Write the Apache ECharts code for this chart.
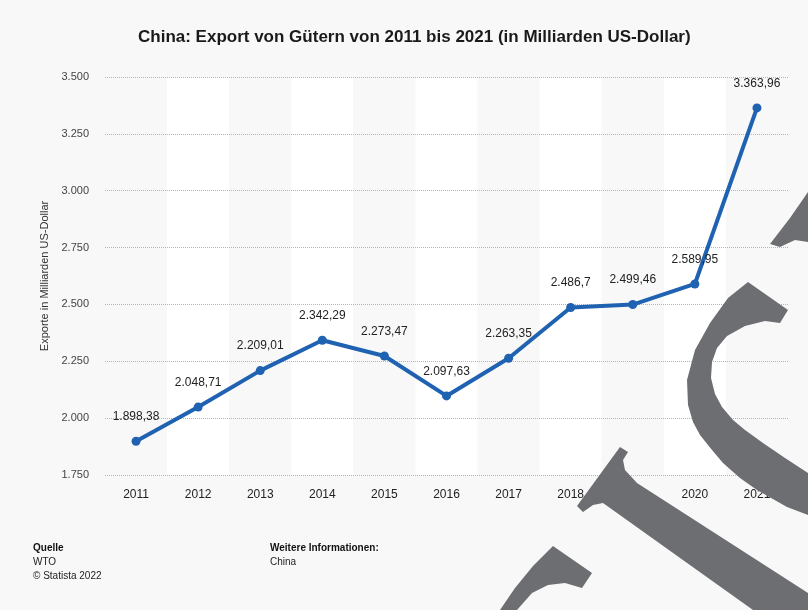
<!DOCTYPE html>
<html>
<head>
<meta charset="utf-8">
<script src="https://cdn.jsdelivr.net/npm/echarts@6/dist/echarts.min.js"></script>
<style>
html,body{margin:0;padding:0;background:#f8f8f8;}
#c{width:808px;height:610px;}
</style>
</head>
<body>
<div id="c"></div>
<script>
const years = ['2011','2012','2013','2014','2015','2016','2017','2018','2019','2020','2021'];
const exportsValues = [1898.38, 2048.71, 2209.01, 2342.29, 2273.47, 2097.63, 2263.35, 2486.7, 2499.46, 2589.95, 3363.96];
const yTicks = [1750, 2000, 2250, 2500, 2750, 3000, 3250, 3500];

function de(v){
  const s = String(v).split('.');
  const i = s[0].replace(/\B(?=(\d{3})+(?!\d))/g, '.');
  return s.length > 1 ? i + ',' + s[1] : i;
}

const FONT = 'Liberation Sans, Arial, Helvetica, sans-serif';
const WM = '#6d6e71';

const chart = echarts.init(document.getElementById('c'), null, {renderer:'canvas'});
chart.setOption({
  backgroundColor: '#f8f8f8',
  animation: false,
  title: {
    text: 'China: Export von Gütern von 2011 bis 2021 (in Milliarden US-Dollar)',
    left: 133, top: 24,
    textStyle: {fontFamily: FONT, fontSize: 17, fontWeight: 'bold', color: '#1a1a1a'}
  },
  grid: {left: 105, right: 20, top: 77, bottom: 135},
  xAxis: {
    type: 'category', data: years, boundaryGap: true, z: 0,
    axisLine: {show: false}, axisTick: {show: false},
    axisLabel: {fontFamily: FONT, fontSize: 12, color: '#222', margin: 14},
    splitArea: {show: true, areaStyle: {color: ['#f8f8f8', '#ffffff']}}
  },
  yAxis: {
    type: 'value', min: yTicks[0], max: yTicks[yTicks.length-1], interval: 250, z: 1,
    name: 'Exporte in Milliarden US-Dollar', nameLocation: 'middle', nameGap: 50,
    nameTextStyle: {fontFamily: FONT, fontSize: 11, color: '#333'},
    axisLine: {show: false}, axisTick: {show: false},
    axisLabel: {fontFamily: FONT, fontSize: 11, color: '#444', margin: 16, formatter: v => de(v)},
    splitLine: {lineStyle: {type: 'dotted', color: '#b5b5b5', width: 1}}
  },
  series: [{
    type: 'line', data: exportsValues,
    symbol: 'circle', symbolSize: 9,
    lineStyle: {color: '#1f62b2', width: 4},
    itemStyle: {color: '#1f62b2'},
    label: {show: true, position: 'top', distance: 14, fontFamily: FONT, fontSize: 12, color: '#222',
      formatter: p => de(p.value)},
    z: 3
  }],
  graphic: [
    {type:'text', left: 33, top: 543, style:{text:'Quelle', font:'bold 10px ' + FONT, fill:'#111'}},
    {type:'text', left: 33, top: 557, style:{text:'WTO', font:'10px ' + FONT, fill:'#222'}},
    {type:'text', left: 33, top: 571, style:{text:'© Statista 2022', font:'10px ' + FONT, fill:'#222'}},
    {type:'text', left: 270, top: 543, style:{text:'Weitere Informationen:', font:'bold 10px ' + FONT, fill:'#111'}},
    {type:'text', left: 270, top: 557, style:{text:'China', font:'10px ' + FONT, fill:'#222'}},
    {type:'polygon', z: 100, shape:{points:[[748,282],[728,298],[710,323],[695,350],[687,380],[688,405],[693,422],[700,435],[712,450],[723,463],[740,478],[757,490],[787,507],[808,515],[808,473],[785,458],[763,443],[745,430],[733,420],[722,407],[715,394],[711,378],[712,362],[717,348],[727,336],[745,326],[765,321],[780,323],[788,310]]}, style:{fill:WM}},
    {type:'polygon', z: 100, shape:{points:[[770,244],[790,218],[808,192],[808,242],[795,240],[780,247]]}, style:{fill:WM}},
    {type:'polygon', z: 100, shape:{points:[[577,506],[620,447],[628,452],[623,460],[625,470],[637,483],[808,593],[808,610],[753,610],[603,503],[593,505],[583,512]]}, style:{fill:WM}},
    {type:'polygon', z: 100, shape:{points:[[500,610],[515,588],[533,566],[553,546],[592,573],[582,588],[565,583],[548,585],[532,593],[517,610]]}, style:{fill:WM}}
  ]
});
</script>
</body>
</html>
